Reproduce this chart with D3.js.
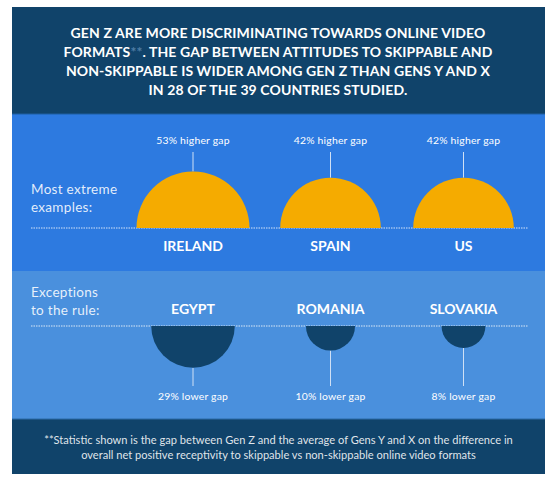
<!DOCTYPE html>
<html><head><meta charset="utf-8">
<script src="https://cdn.jsdelivr.net/npm/d3@7/dist/d3.min.js"></script>
<style>html,body{margin:0;padding:0;background:#fff}svg{display:block}text{font-family:Lato,sans-serif;fill:#fff}</style>
</head><body><svg id="c" width="550" height="482"></svg>
<script>
const titleLines = ["GEN Z ARE MORE DISCRIMINATING TOWARDS ONLINE VIDEO","FORMATS**. THE GAP BETWEEN ATTITUDES TO SKIPPABLE AND","NON-SKIPPABLE IS WIDER AMONG GEN Z THAN GENS Y AND X","IN 28 OF THE 39 COUNTRIES STUDIED."];
const footLines = ["**Statistic shown is the gap between Gen Z and the average of Gens Y and X on the difference in","overall net positive receptivity to skippable vs non-skippable online video formats"];
const higherCountries = ["IRELAND","SPAIN","US"];
const higherValues = [53,42,42];
const lowerCountries = ["EGYPT","ROMANIA","SLOVAKIA"];
const lowerValues = [29,10,8];
const svg = d3.select("#c");
const pos = d3.scaleOrdinal().domain([0,1,2]).range([193,330.5,463.5]);
const r = d3.scaleSqrt().domain([0,53]).range([0,56.5]);
const rect=(y,h,c)=>svg.append("rect").attr("x",12).attr("y",y).attr("width",533).attr("height",h).attr("fill",c);
rect(7,107,"#10436a");rect(114,157,"#2d7ae0");rect(271,148,"#4a90dd");rect(419,55,"#10436a");
svg.append("rect").attr("x",12).attr("y",113.5).attr("width",533).attr("height",1).attr("fill","#1f5f9f");
svg.append("rect").attr("x",12).attr("y",418.5).attr("width",533).attr("height",1).attr("fill","#2a6aa8");
// title
titleLines.forEach((t,i)=>{
  const el=svg.append("text").attr("x",278).attr("y",[38,57,76,95][i]).attr("text-anchor","middle")
    .attr("font-size",14).attr("font-weight",700).style("letter-spacing","0.1px");
  if(t.includes("**")){const p=t.split("**");el.append("tspan").text(p[0]);el.append("tspan").style("fill","#4f7ea6").text("**");el.append("tspan").text(p[1]);}
  else el.text(t);
});
footLines.forEach((t,i)=>svg.append("text").attr("x",278.5).attr("y",[444,459][i]).attr("text-anchor","middle").attr("font-size",11.1).attr("fill-opacity",.88).text(t));
// section labels
[["Most extreme",194],["examples:",211.5],["Exceptions",297],["to the rule:",314.5]].forEach(([t,y])=>
  svg.append("text").attr("x",31).attr("y",y).attr("font-size",13.5).attr("font-weight",400).attr("fill-opacity",.88).style("letter-spacing","0.3px").text(t));
const base1=228, base2=326;
[base1,base2].forEach(y=>svg.append("line").attr("x1",31).attr("x2",528).attr("y1",y).attr("y2",y).attr("stroke","#fff").attr("stroke-opacity",.8).attr("stroke-dasharray","1.5 1"));
const half=(R,a,b)=>d3.arc().innerRadius(0).outerRadius(R).startAngle(a).endAngle(b)();
// upper
const gu=svg.append("g").selectAll("g").data(higherValues).join("g").attr("transform",(d,i)=>`translate(${pos(i)},${base1})`);
gu.append("line").attr("y1",-76).attr("y2",d=>-r(d)).attr("stroke","#cfe0f5").attr("stroke-width",1);
gu.append("path").attr("d",d=>half(r(d),-Math.PI/2,Math.PI/2)).attr("fill","#f5ab00");
gu.append("text").attr("y",-84).attr("text-anchor","middle").attr("font-size",10.4).style("letter-spacing","0.2px").text(d=>d+"% higher gap");
gu.append("text").attr("y",22.5).attr("text-anchor","middle").attr("font-size",14).attr("font-weight",700).text((d,i)=>higherCountries[i]);
// lower
const gl=svg.append("g").selectAll("g").data(lowerValues).join("g").attr("transform",(d,i)=>`translate(${pos(i)},${base2})`);
gl.append("line").attr("y1",d=>r(d)).attr("y2",60).attr("stroke","#cfe0f5").attr("stroke-width",1);
gl.append("path").attr("d",d=>half(r(d),Math.PI/2,Math.PI*1.5)).attr("fill","#10436a");
gl.append("text").attr("y",74).attr("text-anchor","middle").attr("font-size",10.4).style("letter-spacing","0.2px").text(d=>d+"% lower gap");
gl.append("text").attr("y",-12).attr("text-anchor","middle").attr("font-size",14).attr("font-weight",700).text((d,i)=>lowerCountries[i]);
</script></body></html>
